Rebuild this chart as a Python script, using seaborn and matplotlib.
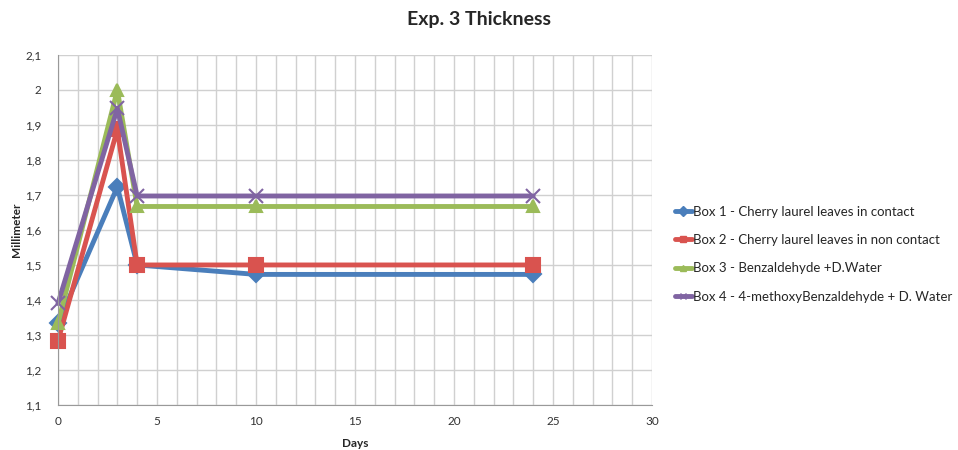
import matplotlib
matplotlib.use("Agg")
import matplotlib.pyplot as plt
import seaborn as sns
import pandas as pd
import numpy as np
from matplotlib.ticker import FuncFormatter, MultipleLocator
from matplotlib.lines import Line2D

days = [0, 3, 4, 10, 24]
box1 = [1.333, 1.723, 1.500, 1.473, 1.473]
box2 = [1.283, 1.887, 1.500, 1.500, 1.500]
box3 = [1.333, 2.000, 1.667, 1.667, 1.667]
box4 = [1.390, 1.947, 1.697, 1.697, 1.697]
labels = ["Box 1 - Cherry laurel leaves in contact",
          "Box 2 - Cherry laurel leaves in non contact",
          "Box 3 - Benzaldehyde +D.Water",
          "Box 4 - 4-methoxyBenzaldehyde + D. Water"]
colors = ["#4A7EBB", "#D9534F", "#9BBB59", "#8064A2"]
markers = ["D", "s", "^", "x"]
msizes = [8, 10, 9, 10]

sns.set_style("white")
plt.rcParams['font.family'] = ['Lato', 'DejaVu Sans']

fig = plt.figure(figsize=(9.58, 4.5), dpi=100)
ax = fig.add_axes([0.0605, 0.1, 0.62, 0.778])

for lab, vals, c, m, ms in zip(labels, [box1, box2, box3, box4], colors, markers, msizes):
    df = pd.DataFrame({"Days": days, "Millimeter": vals})
    sns.lineplot(data=df, x="Days", y="Millimeter", color=c, marker=m, markersize=ms,
                 markeredgecolor=c, markeredgewidth=1.5,
                 linewidth=3.5, ax=ax, legend=False, clip_on=False)

ax.set_xlim(0, 30)
ax.set_ylim(1.1, 2.1)
ax.xaxis.set_major_locator(MultipleLocator(5))
ax.xaxis.set_minor_locator(MultipleLocator(1))
ax.yaxis.set_major_locator(MultipleLocator(0.1))
ax.grid(True, which="both", color="#d0d0d0", linewidth=1)
ax.tick_params(which="both", length=0, labelsize=8.5, colors="#333333")
ax.tick_params(axis="y", pad=12)
ax.tick_params(axis="x", pad=8)
ax.yaxis.set_major_formatter(FuncFormatter(lambda v, p: (("%.1f" % v).rstrip("0").rstrip(".")).replace(".", ",")))
for s in ["top", "right"]:
    ax.spines[s].set_visible(False)
for s in ["left", "bottom"]:
    ax.spines[s].set_color("#999999")
ax.set_xlabel("Days", fontsize=8.5, fontweight="bold", labelpad=8)
ax.set_ylabel("Millimeter", fontsize=8.5, fontweight="bold", labelpad=2)
fig.suptitle("Exp. 3 Thickness", x=0.5, y=0.975, fontsize=14, fontweight="bold")

handles = [Line2D([0], [0], color=c, marker=m, lw=3.5, markersize=5, markeredgecolor=c)
           for c, m in zip(colors, markers)]
fig.legend(handles, labels, loc="center left", bbox_to_anchor=(0.692, 0.435), frameon=False,
           fontsize=9.5, handlelength=1.3, handletextpad=0.1, labelspacing=1.25)

fig.savefig("out.png", dpi=100)
